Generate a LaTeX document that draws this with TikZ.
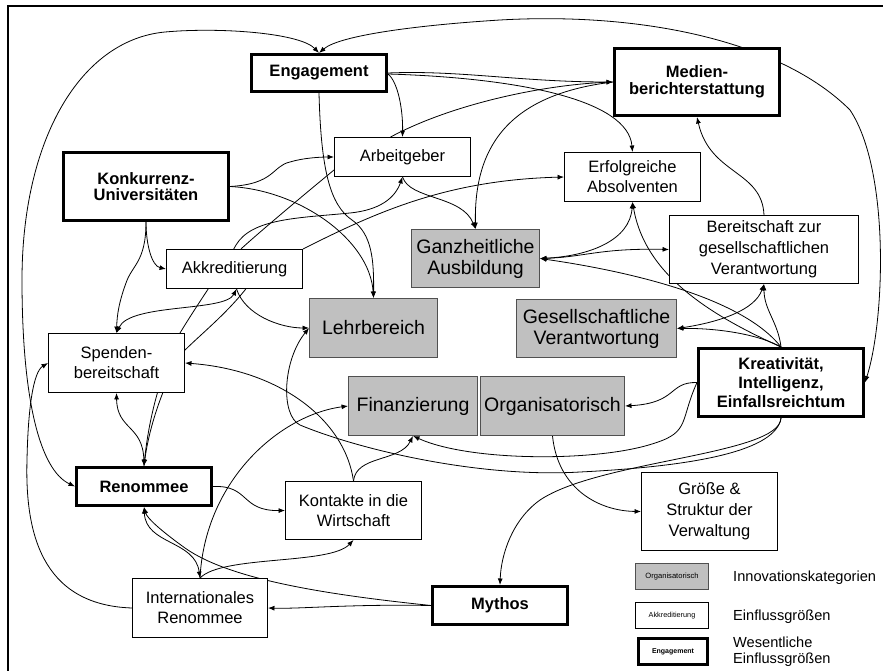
\documentclass[tikz,border=0pt]{standalone}
\usepackage{fontspec}
\setmainfont{Liberation Sans}
\usetikzlibrary{arrows.meta}
\pgfdeclarelayer{bg}
\pgfsetlayers{bg,main}
\definecolor{catgray}{RGB}{192,192,192}
\definecolor{catedge}{RGB}{80,80,80}
\begin{document}
\begin{tikzpicture}[x=1pt,y=-1pt,
  box/.style={rectangle, align=center, inner sep=0pt},
  infl/.style={box, draw, line width=0.9pt, fill=white, font=\fontsize{16.5}{20}\selectfont},
  core/.style={box, draw, line width=3pt, fill=white, font=\bfseries\fontsize{16.5}{18}\selectfont},
  cat/.style={box, draw=catedge, line width=0.9pt, fill=catgray, font=\fontsize{19.5}{21}\selectfont},
  link/.style={line width=0.8pt, -{Latex[length=6.5pt,width=5pt]}},
  both/.style={line width=0.8pt, {Latex[length=6.5pt,width=5pt]}-{Latex[length=6.5pt,width=5pt]}},
  keytext/.style={anchor=west, inner sep=0pt, align=left, font=\fontsize{14.6}{16}\selectfont}
]
\useasboundingbox (0,0) rectangle (883,671);

% main influence factors (thick frame)
\node[core, minimum width=135pt, minimum height=37pt] (eng) at (319,73) {Engagement};
\node[core, minimum width=165pt, minimum height=68pt, font=\bfseries\fontsize{16.5}{16}\selectfont] (konk) at (146,186.5) {Konkurrenz-\\Universitäten};
\node[core, minimum width=165pt, minimum height=67pt, font=\bfseries\fontsize{16.5}{17.5}\selectfont] (med) at (697,82) {Medien-\\berichterstattung};
\node[core, minimum width=165pt, minimum height=68pt, font=\bfseries\fontsize{16.5}{19}\selectfont] (krea) at (781,382.5) {Kreativität,\\Intelligenz,\\Einfallsreichtum};
\node[core, minimum width=135pt, minimum height=38pt] (ren) at (144,486.5) {Renommee};
\node[core, minimum width=135pt, minimum height=38pt] (myth) at (500,605.5) {Mythos};

% influence factors
\node[infl, minimum width=136pt, minimum height=39pt] (arb) at (402.5,157) {Arbeitgeber};
\node[infl, minimum width=136pt, minimum height=49pt] (erf) at (632.5,177) {Erfolgreiche\\Absolventen};
\node[infl, minimum width=136pt, minimum height=39pt] (akk) at (234.5,269) {Akkreditierung};
\node[infl, minimum width=136pt, minimum height=59pt] (spend) at (116.5,363) {Spenden-\\bereitschaft};
\node[infl, minimum width=189pt, minimum height=68pt, font=\fontsize{16.5}{21}\selectfont] (ber) at (764,249.5) {Bereitschaft zur\\gesellschaftlichen\\Verantwortung};
\node[infl, minimum width=136pt, minimum height=58pt] (kon) at (353.5,510.5) {Kontakte in die\\Wirtschaft};
\node[infl, minimum width=135pt, minimum height=59pt] (intr) at (200,608) {Internationales\\Renommee};
\node[infl, minimum width=136pt, minimum height=78pt, font=\fontsize{16.5}{21}\selectfont] (groe) at (709.5,511.5) {Größe \&\\Struktur der\\Verwaltung};

% innovation categories
\node[cat, minimum width=128pt, minimum height=59pt] (lehr) at (373.5,328) {Lehrbereich};
\node[cat, minimum width=128pt, minimum height=58pt] (ganz) at (475.5,258.5) {Ganzheitliche\\Ausbildung};
\node[cat, minimum width=160pt, minimum height=58pt] (ges) at (596.5,328.5) {Gesellschaftliche\\Verantwortung};
\node[cat, minimum width=129pt, minimum height=59pt] (fin) at (413,406) {Finanzierung};
\node[cat, minimum width=144pt, minimum height=59pt] (org) at (552.5,406) {Organisatorisch};

% legend
\node[cat, minimum width=73pt, minimum height=26pt, font=\fontsize{7.6}{9}\selectfont] (lgcat) at (672,576.5) {Organisatorisch};
\node[infl, minimum width=73pt, minimum height=26pt, font=\fontsize{7.3}{9}\selectfont] (lginf) at (672,615.5) {Akkreditierung};
\node[core, minimum width=69pt, minimum height=26pt, font=\bfseries\fontsize{7}{9}\selectfont] (lgcore) at (673,651.5) {Engagement};
\node[keytext] (lgcatt) at (733,578) {Innovationskategorien};
\node[keytext] (lginft) at (733,617) {Einflussgrößen};
\node[keytext] (lgcoret) at (733,652) {Wesentliche\\Einflussgrößen};

\begin{pgfonlayer}{bg}
% frame
\draw[line width=2.5pt] (8,671) -- (8,6) -- (883,6);

% long loops around the chart
\draw[both] (ren.west) .. controls (40,470) and (22,400) .. (22,280)
  .. controls (22,140) and (80,40) .. (165,32)
  .. controls (220,27) and (300,33) .. (eng.north);
\draw[both] (eng.north) .. controls (340,35) and (420,25) .. (500,20)
  .. controls (640,12) and (780,40) .. (850,110)
  .. controls (890,170) and (885,320) .. (krea.east);
\draw[link] (intr.west) .. controls (40,605) and (25,530) .. (27,460)
  .. controls (28,410) and (33,372) .. (spend.west);

% from Engagement
\draw[link] (eng.east) .. controls (460,70) and (520,82) .. (med.west);
\draw[link] ([yshift=-1pt]eng.east) .. controls (520,78) and (628,100) .. (erf.north);
\draw[link] ([yshift=-1pt]eng.east) .. controls (398,82) and (403,110) .. (arb.north);
\draw[link] (eng.south) .. controls (321,170) and (330,205) .. (352,220)
  .. controls (372,234) and (374,260) .. (lehr.north);

% from Konkurrenz-Universitaeten
\draw[link] (konk.east) .. controls (300,190) and (370,240) .. (lehr.north);
\draw[link] (konk.east) .. controls (275,184) and (272,166) .. (290,162)
  .. controls (303,158) and (320,157) .. (arb.west);
\draw[link] (konk.south) .. controls (146,245) and (152,266) .. (akk.west);
\draw[link] (konk.south) .. controls (146,262) and (132,265) .. (126,283)
  .. controls (119,302) and (117,315) .. (spend.north);

% around Akkreditierung
\draw[both] ([xshift=2pt]akk.south) .. controls (225,312) and (130,303) .. (spend.north);
\draw[link] ([xshift=2pt]akk.south) .. controls (245,315) and (280,328) .. (lehr.west);
\draw[link] (akk.north east) .. controls (380,210) and (450,180) .. (erf.west);

% Renommee and Arbeitgeber, passing behind Spenden and Akkreditierung
\draw[link] (ren.north) .. controls (148,420) and (160,375) .. (180,333)
  .. controls (200,300) and (225,265) .. (236,245)
  .. controls (252,218) and (300,218) .. (350,213)
  .. controls (380,210) and (395,198) .. (arb.south);
\draw[link] ([yshift=7pt]arb.south west) .. controls (300,198) and (262,230) .. (242,248)
  .. controls (225,265) and (255,280) .. (245,290)
  .. controls (225,315) and (200,335) .. (183,352)
  .. controls (168,375) and (150,420) .. (ren.north);

% Arbeitgeber, Medien, Ganzheitliche Ausbildung
\draw[link] (arb.south) .. controls (410,200) and (462,195) .. (ganz.north);
\draw[link] ([xshift=-12pt]arb.north) .. controls (450,105) and (540,85) .. (med.west);
\draw[link] (med.west) .. controls (505,95) and (474,150) .. (ganz.north);
\draw[both] (ganz.east) .. controls (585,257) and (600,248) .. (ber.west);
\draw[both] (erf.south) .. controls (630,240) and (590,256) .. (ganz.east);
\draw[link] (ber.north) .. controls (762,170) and (710,175) .. (med.south);

% from Kreativitaet
\draw[link] (krea.north) .. controls (740,295) and (620,270) .. (ganz.east);
\draw[link] (krea.north) .. controls (710,315) and (645,275) .. (erf.south);
\draw[link] (krea.north) .. controls (760,335) and (720,328) .. (ges.east);
\draw[link] (krea.north) .. controls (778,322) and (764,310) .. (ber.south);
\draw[both] (ges.east) .. controls (720,322) and (755,310) .. (ber.south);
\draw[link] (krea.west) .. controls (668,382) and (678,403) .. (org.east);
\draw[link] (krea.west) .. controls (680,420) and (690,432) .. (655,443)
  .. controls (600,462) and (470,462) .. (fin.south);
\draw[link] (krea.south) .. controls (776,450) and (700,466) .. (580,472)
  .. controls (480,478) and (360,450) .. (300,425)
  .. controls (280,415) and (283,360) .. (lehr.west);
\draw[link] (krea.south) .. controls (780,455) and (600,460) .. (540,500)
  .. controls (512,520) and (501,555) .. (myth.north);
\draw[link] (org.south) .. controls (558,490) and (600,511) .. (groe.west);

% lower left cluster
\draw[link] (kon.north) .. controls (345,420) and (280,370) .. (spend.east);
\draw[link] (kon.north) .. controls (356,455) and (400,462) .. (fin.south);
\draw[link] (intr.north) .. controls (205,480) and (280,415) .. (fin.west);
\draw[both] (ren.south) .. controls (146,545) and (195,540) .. (intr.north);
\draw[link] (intr.north) .. controls (222,555) and (330,565) .. (kon.south);
\draw[link] (myth.west) .. controls (330,595) and (230,580) .. (185,548)
  .. controls (160,530) and (147,518) .. (ren.south);
\draw[link] (myth.west) .. controls (350,604) and (300,609) .. (intr.east);
\draw[link] (ren.east) .. controls (250,485) and (240,511) .. (kon.west);
\draw[both] (spend.south) .. controls (117,430) and (143,425) .. (ren.north);
\end{pgfonlayer}
\end{tikzpicture}
\end{document}
